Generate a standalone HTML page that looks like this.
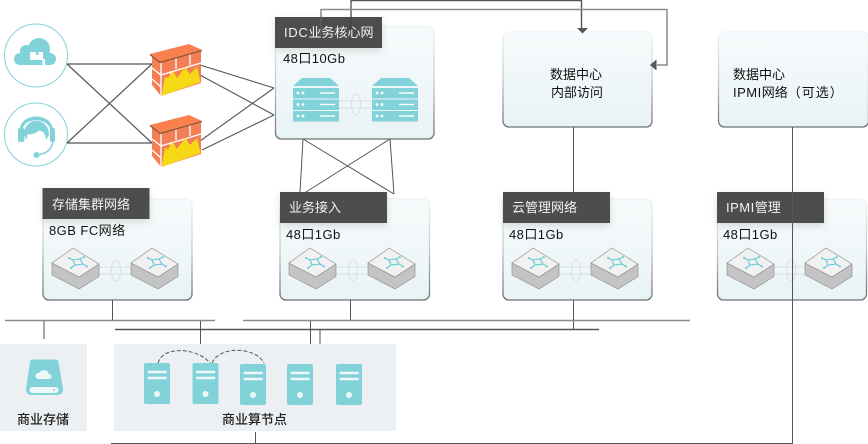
<!DOCTYPE html>
<html><head><meta charset="utf-8"><style>
html,body{margin:0;padding:0;background:#fff}
svg{display:block}
text{font-family:"Liberation Sans","Noto Sans CJK SC",sans-serif;font-size:13px;fill:#111}
.w{fill:#f2f2f2}
.b{fill:#222;font-weight:500}
.n{letter-spacing:.45px}
.l{stroke:#555;stroke-width:1;fill:none}
.g{stroke:#8a8a8a;stroke-width:1.5;fill:none}
.d{stroke:#555;stroke-width:1.4;fill:none}
</style></head><body>
<svg xmlns="http://www.w3.org/2000/svg" width="868" height="444" viewBox="0 0 868 444">
<defs>
<linearGradient id="bg" x1="0" y1="0" x2="0" y2="1"><stop offset="0" stop-color="#f8fbfc"/><stop offset="1" stop-color="#e8f3f6"/></linearGradient>
<linearGradient id="bd" x1="0" y1="0" x2="0" y2="1"><stop offset="0" stop-color="#eef3f4"/><stop offset=".5" stop-color="#c4cccf"/><stop offset="1" stop-color="#6d7072"/></linearGradient>
<filter id="sh" x="-20%" y="-30%" width="140%" height="170%"><feDropShadow dx="0" dy="3" stdDeviation="4" flood-color="#000" flood-opacity=".13"/></filter>
<g id="sw">
<path d="M0 15V27L27 41 47 28.500V16L27 29Z" fill="#c4c4c4" stroke="#8a8a8a" stroke-width=".6"/>
<path d="M21 0 47 16 27 29 0 15Z" fill="#f1f1f1" stroke="#8a8a8a" stroke-width=".6"/>
<path d="M21 12 28 11 31 16 23 17ZM21 12 17 10M28 11 32 9M31 16 35 18.500M23 17 19 20" fill="none" stroke="#63cbd8" stroke-width="1.100"/>
<circle cx="17" cy="10" r="1" fill="#63cbd8"/><circle cx="32" cy="9" r="1" fill="#63cbd8"/><circle cx="35" cy="18.500" r="1" fill="#63cbd8"/><circle cx="19" cy="20" r="1" fill="#63cbd8"/>
</g>
<g id="lk">
<path d="M0 0H32M0 7H32" stroke="#dfe3e4" stroke-width="1.200" fill="none"/>
<ellipse cx="17" cy="3.500" rx="4.500" ry="10.500" fill="none" stroke="#dcdfe0" stroke-width="1"/>
</g>
<g id="fw">
<path d="M2 12V41L11 52 51 39V7L10 17Z" fill="#f47e55"/>
<path d="M2 24 11 31 51 19M2 35 11 43M11 18V52M26 14V25M40 10V21M21 27V36M36 23V32" stroke="#fff" stroke-width="1.300" fill="none"/>
<path d="M11.500 52 15 33 18 34 23 27 27 34 35 23 40 30 47 23 50.500 38Z" fill="#f6d915"/>
<path d="M0 10 39 0 52 6 10 18Z" fill="#fb8050"/>
<path d="M0 10.500 10 18.500 52 6.500" stroke="#8a5a35" stroke-width="1.300" fill="none"/>
</g>
<g id="srv">
<rect width="26" height="41" rx="2" fill="#82d2da"/>
<rect x="3.700" y="7.700" width="19" height="2.500" fill="#eef8f9"/>
<rect x="3.700" y="13.700" width="19" height="2.500" fill="#eef8f9"/>
<circle cx="13" cy="31" r="3" fill="#eef8f9"/>
</g>
<g id="rack">
<path d="M9 0H37L46 8H0Z" fill="#82d2da"/>
<g id="row"><rect y="10" width="46" height="10.500" fill="#82d2da"/><circle cx="5" cy="15" r="1.400" fill="#fff"/><circle cx="10" cy="15" r="1.400" fill="#fff"/><rect x="27" y="14.300" width="15" height="1.400" fill="#fff"/></g>
<use href="#row" y="11.500"/><use href="#row" y="23"/>
</g>
</defs>

<rect x="0" y="344" width="87" height="87" fill="#edf0f3"/>
<rect x="114" y="344" width="282" height="87" fill="#edf0f3"/>

<g class="l">
<path d="M303 139 300 192M303 139 394 194M390 139 306 192M390 139 394 194"/>
</g>
<g class="d">
<path d="M67 64H152M67 64 152 143M67 143H152M67 143 152 64" stroke-width="1.200"/>
<path d="M200 65 274 88M200 75 274 115M200 141 274 88M202 150 274 115" stroke-width="1.100"/>
</g>
<path class="d" d="M351 17V.500H581.500V30"/>
<path class="g" d="M321 17V9.500H667V65H657"/>

<rect x="275.500" y="26.500" width="158.500" height="112.500" rx="6" fill="url(#bg)" stroke="url(#bd)" stroke-width="1.300"/>
<rect x="503" y="32" width="149" height="95" rx="6" fill="url(#bg)" stroke="url(#bd)" stroke-width="1.300"/>
<rect x="718.500" y="32" width="150" height="95" rx="6" fill="url(#bg)" stroke="url(#bd)" stroke-width="1.300"/>
<rect x="43" y="199" width="149" height="101" rx="6" fill="url(#bg)" stroke="url(#bd)" stroke-width="1.300"/>
<rect x="280" y="199" width="149.500" height="101" rx="6" fill="url(#bg)" stroke="url(#bd)" stroke-width="1.300"/>
<rect x="503" y="199" width="149" height="101" rx="6" fill="url(#bg)" stroke="url(#bd)" stroke-width="1.300"/>
<rect x="717.500" y="199" width="149" height="101" rx="6" fill="url(#bg)" stroke="url(#bd)" stroke-width="1.300"/>

<path d="M577 28H588L582.500 33.500Z" fill="#555"/>
<path d="M656.500 59.500V70.500L650 65Z" fill="#555"/>

<g fill="#4d4d4d" filter="url(#sh)">
<rect x="275" y="17" width="107" height="31"/>
<rect x="42.500" y="188" width="107" height="31"/>
<rect x="280" y="192" width="107" height="31"/>
<rect x="503" y="192" width="107" height="31"/>
<rect x="717" y="192" width="107" height="31"/>
</g>
<path d="M321 17V36" stroke="#777" stroke-width="1" opacity=".5"/>
<path d="M351 17V30" stroke="#333" stroke-width="1" opacity=".5"/>

<text class="w" x="284" y="37"><tspan letter-spacing=".7">IDC</tspan>业务核心网</text>
<text class="w" x="52" y="209">存储集群网络</text>
<text class="w" x="289" y="212">业务接入</text>
<text class="w" x="512" y="212">云管理网络</text>
<text class="w" x="726" y="212"><tspan letter-spacing=".5">IPMI</tspan>管理</text>

<text class="n" x="283" y="63">48口10Gb</text>
<text class="n" x="49" y="235">8GB FC网络</text>
<text class="n" x="286" y="239">48口1Gb</text>
<text class="n" x="509" y="239">48口1Gb</text>
<text class="n" x="723" y="239">48口1Gb</text>

<text x="550" y="79">数据中心</text>
<text x="551" y="97">内部访问</text>
<text x="733" y="79">数据中心</text>
<text x="733" y="97"><tspan letter-spacing=".5">IPMI</tspan>网络<tspan letter-spacing="1">（可选）</tspan></text>

<use href="#lk" x="339" y="101"/>
<use href="#rack" x="293" y="78"/>
<use href="#rack" x="372" y="78"/>

<use href="#lk" x="99" y="267"/><use href="#sw" x="52" y="248"/><use href="#sw" x="131" y="248"/>
<use href="#lk" x="336" y="267"/><use href="#sw" x="289" y="248"/><use href="#sw" x="368" y="248"/>
<use href="#lk" x="559" y="267"/><use href="#sw" x="512" y="248"/><use href="#sw" x="591" y="248"/>
<use href="#lk" x="774" y="267"/><use href="#sw" x="727" y="248"/><use href="#sw" x="805" y="248"/>

<path class="l" d="M573.500 127V192M573.500 300V329M792.500 127V443.500H111M350.500 300V320M112.500 300V320M200.500 320V344M310.500 320V344M255.500 432V443"/>
<path class="g" d="M5 320.500H215M243 320.500H690M44 320V339M320 329V344"/>
<path class="d" d="M115 329.500H599"/>

<circle cx="36" cy="55.500" r="31.500" fill="#fff" stroke="#82d2da" stroke-width="1"/>
<circle cx="36" cy="134.500" r="31.500" fill="#fff" stroke="#82d2da" stroke-width="1"/>
<g fill="#82d2da">
<circle cx="39" cy="49" r="11"/><circle cx="26" cy="51" r="6"/><circle cx="20" cy="59" r="6"/><circle cx="50" cy="59" r="6"/>
<rect x="20" y="52" width="30" height="13"/>
</g>
<rect x="30" y="52" width="13" height="8" fill="#fff"/>
<rect x="42.500" y="59" width="2.500" height="7" fill="#fff"/>
<rect x="36" y="52" width="2.500" height="3" fill="#82d2da"/>
<g fill="#82d2da">
<path d="M20 130C20 112 52 112 53 130H50.500C48 117 24 117 22.500 130Z"/>
<path d="M24 135C24 116 49 116 49 135L46 140C46 134 43 131 39 130.500 35 134 30 135 27.500 134L27 140Z"/>
<rect x="18" y="128" width="6.500" height="14" rx="2"/>
<rect x="50" y="128" width="5" height="14" rx="2"/>
<circle cx="36.500" cy="155" r="3"/>
</g>
<path d="M53 141C52 150 46 154 37 155" fill="none" stroke="#82d2da" stroke-width="1.500"/>

<use href="#fw" x="150" y="44"/>
<use href="#fw" x="150" y="115"/>

<path d="M33 359.500H55Q58 359.500 58.500 362L63 389Q63 395 57 395H32Q26 395 26 389L30 362Q30.500 359.500 33 359.500Z" fill="#82d2da"/>
<rect x="29.500" y="387" width="29" height="6" rx="3" fill="#eef8f9"/>
<circle cx="54" cy="390" r="1" fill="#82d2da"/>
<path d="M38 379a3 3 0 0 1 1-6 5.500 5.500 0 0 1 10 1 2.500 2.500 0 0 1 0 5Z" fill="#eef8f9"/>

<use href="#srv" x="144" y="363"/>
<use href="#srv" x="192.500" y="363"/>
<use href="#srv" x="240" y="364"/>
<use href="#srv" x="287" y="364"/>
<use href="#srv" x="336" y="364"/>
<path d="M158 363C163 345 198 348 210 363M212 363C220 345 256 347 264 363" fill="none" stroke="#555" stroke-width="1" stroke-dasharray="4 2"/>

<text class="b" x="17" y="424">商业存储</text>
<text class="b" x="222" y="424">商业算节点</text>
</svg>
</body></html>
